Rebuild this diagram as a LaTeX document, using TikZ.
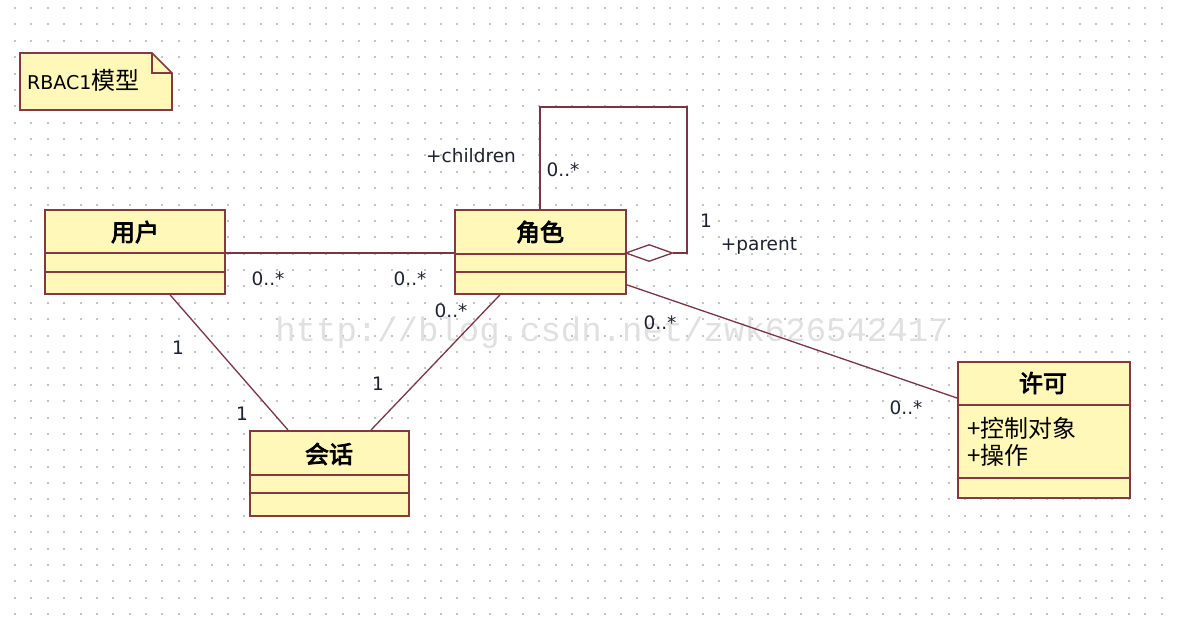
\documentclass[tikz,border=0pt]{standalone}
\usepackage{fontspec}
\setmainfont{DejaVu Sans}
\newfontfamily\cjk{Noto Sans CJK SC}
\newfontfamily\cjkb[FakeBold=3.5]{Noto Sans CJK SC}
\newfontfamily\wmfont{Liberation Mono}
\usetikzlibrary{shapes.geometric}
\definecolor{boxfill}{HTML}{FFF8B8}
\definecolor{boxline}{HTML}{84393F}
\definecolor{conline}{HTML}{7A3545}
\definecolor{dotc}{HTML}{C4C4C4}
\definecolor{labc}{HTML}{1E2230}
\tikzset{
  classbox/.style={draw=boxline, fill=boxfill, line width=1.8pt, inner sep=0pt, anchor=north west},
  divider/.style={draw=boxline, line width=1.8pt},
  title/.style={font=\cjkb\fontsize{24}{26}\selectfont, text=black, inner sep=0pt},
  attr/.style={font=\cjk\fontsize{24}{25}\selectfont, text=black, inner sep=0pt, anchor=west},
  lab/.style={font=\fontsize{18.5}{20}\selectfont, text=labc, inner sep=0pt},
  conn/.style={draw=conline, line width=1.3pt},
}
\begin{document}
\begin{tikzpicture}[x=1pt,y=-1pt]
\useasboundingbox (0,0) rectangle (1180,625);
\fill[white] (0,0) rectangle (1180,625);
% grid dots
\foreach \i in {0,...,70} {
  \foreach \j in {0,...,37} {
    \fill[dotc] ({14+16.38*\i},{7+16.38*\j}) rectangle +(2,2);
  }
}
% watermark
\node[font=\wmfont\fontsize{34}{36}\selectfont, text=black!12, inner sep=0pt] (wm) at (612,333) {http://blog.csdn.net/zwk626542417};

% note
\draw[draw=boxline, fill=boxfill, line width=1.6pt] (20,53) -- (152,53) -- (172,73) -- (172,110) -- (20,110) -- cycle;
\draw[draw=boxline, line width=1.4pt] (152,53) -- (152,73) -- (172,73);
\node[anchor=west, inner sep=0pt] (note) at (27,80) {\fontsize{19}{21}\selectfont RBAC1{\cjk\fontsize{24}{26}\selectfont 模型}};

% classes
\node[classbox, minimum width=180pt, minimum height=84pt] (user) at (44,209) {};
\node[classbox, minimum width=171pt, minimum height=84pt] (role) at (454,209) {};
\node[classbox, minimum width=159pt, minimum height=85pt] (session) at (249,430) {};
\node[classbox, minimum width=172pt, minimum height=136pt] (perm) at (957,361) {};

\foreach \n/\a/\b in {user/44/63, role/45/63, session/45/63, perm/44/117} {
  \draw[divider] ([yshift=-\a pt]\n.north west) -- ([yshift=-\a pt]\n.north east);
  \draw[divider] ([yshift=-\b pt]\n.north west) -- ([yshift=-\b pt]\n.north east);
}

\node[title] (tuser) at (135,232) {用户};
\node[title] (trole) at (540,232) {角色};
\node[title] (tsession) at (329,454) {会话};
\node[title] (tperm) at (1043,383) {许可};
\node[attr] (a1) at (967,428) {+控制对象};
\node[attr] (a2) at (967,455) {+操作};

% diamond for aggregation
\node[diamond, draw=conline, fill=white, line width=1.3pt, minimum width=47pt, minimum height=17pt, inner sep=0pt, anchor=west] (dia) at (625,253) {};
\coordinate (lt) at (540,107);
\coordinate (rt) at (687,107);
\coordinate (rb) at (687,253);

% connectors
\draw[conn] ([yshift=-44pt]user.north east) -- ([yshift=-44pt]role.north west);
\draw[conn] ([xshift=126pt]user.south west) -- ([xshift=39pt]session.north west);
\draw[conn] ([xshift=46pt]role.south west) -- ([xshift=122pt]session.north west);
\draw[conn] ([yshift=10pt]role.south east) -- ([yshift=-37pt]perm.north west);
\draw[conn] ([xshift=86pt]role.north west) -- (lt) -- (rt) -- (rb) -- (dia.east);

% labels
\node[lab] (l1) at (471,156) {+children};
\node[lab] (l2) at (563,170) {0..*};
\node[lab] (l3) at (706,221) {1};
\node[lab] (l4) at (759,246) {+parent};
\node[lab] (l5) at (268,279) {0..*};
\node[lab] (l6) at (410,279) {0..*};
\node[lab] (l7) at (451,311) {0..*};
\node[lab] (l8) at (178,348) {1};
\node[lab] (l9) at (242,414) {1};
\node[lab] (l10) at (378,384) {1};
\node[lab] (l11) at (660,323) {0..*};
\node[lab] (l12) at (906,408) {0..*};
\end{tikzpicture}
\end{document}
